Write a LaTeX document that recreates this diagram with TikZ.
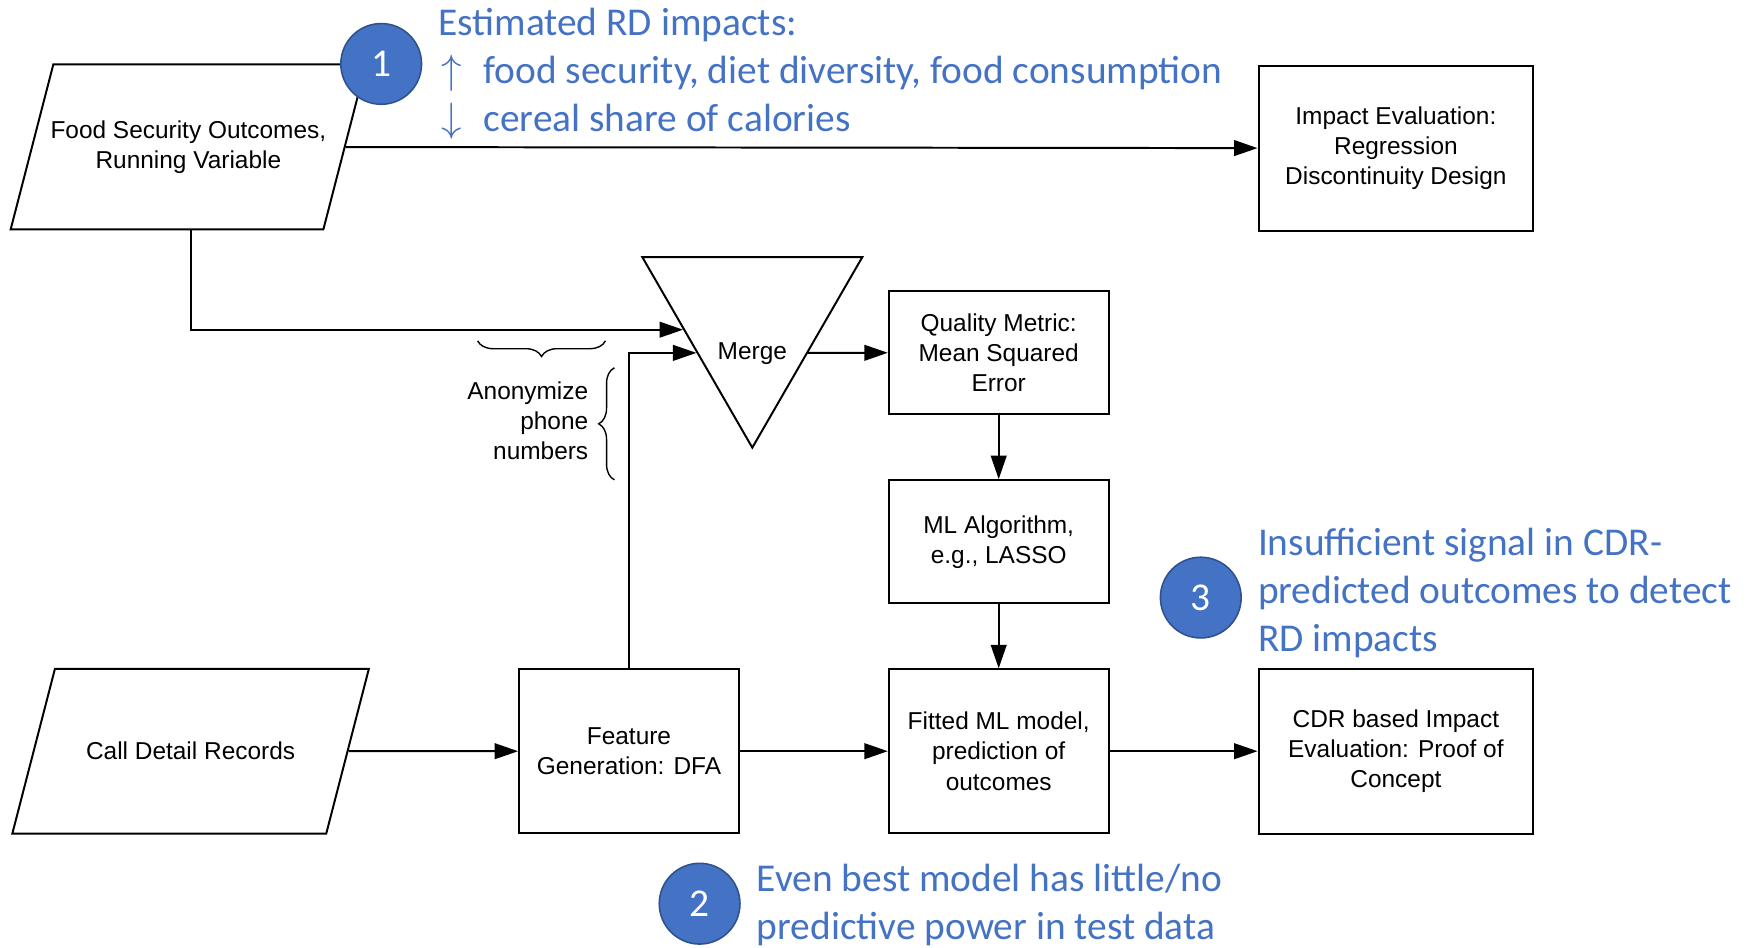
\documentclass[tikz,border=0pt]{standalone}
\usepackage{fontspec}
\setmainfont{Liberation Sans}
\newfontfamily\calloutfont{Carlito}
\usetikzlibrary{positioning,arrows.meta,shapes.geometric,decorations.pathreplacing,calc}
\definecolor{callout}{HTML}{4472C4}
\definecolor{calloutedge}{HTML}{2F528F}

\begin{document}
\begin{tikzpicture}[
  x=0.2mm, y=-0.2mm,
  node distance=11.4mm and 26.4mm,
  io/.style={draw, line width=1pt, trapezium, trapezium left angle=75.5, trapezium right angle=104.5, trapezium stretches body=true, minimum width=62.6mm, minimum height=29.4mm, inner xsep=0pt, inner ysep=#1, align=center, font=\fontsize{12.4}{15.3}\selectfont},
  io/.default=10mm,
  block/.style={draw, line width=1pt, minimum width=39.2mm, minimum height=29.2mm, align=center, font=\fontsize{12.4}{15.3}\selectfont},
  smallblock/.style={block, minimum height=22mm},
  wideblock/.style={block, minimum width=49mm, minimum height=29.4mm},
  merger/.style={draw, line width=1pt, regular polygon, regular polygon sides=3, shape border rotate=180, minimum size=45.3mm, inner sep=0pt},
  badge/.style={circle, fill=callout, draw=calloutedge, line width=0.8pt, minimum size=14.4mm, inner sep=0pt, text=white, font=\calloutfont\fontsize{20}{24}\selectfont},
  note/.style={text=callout, align=left, inner sep=0pt, font=\calloutfont\fontsize{20}{24.4}\selectfont},
  arrow/.style={-{Triangle[length=4.2mm, width=2.8mm]}, line width=1pt},
  brace/.style={decorate, decoration={brace, amplitude=2.8mm}, line width=0.7pt}
]
\useasboundingbox (0,0) rectangle (1568,845);

% inputs
\node[io, inner xsep=-0.5mm, minimum width=62.2mm] (food) at (168,131) {Food Security Outcomes,\\Running Variable};
\node[io=13.1mm, minimum width=63.6mm] (cdr) at (170,670) {Call Detail Records};

% processing chain
\node[block] (feat) at (561,670) {Feature\\Generation: DFA};
\node[block, right=of feat] (fitted) {Fitted ML model,\\prediction of\\outcomes};
\node[wideblock, right=of fitted] (cdrimp) {CDR based Impact\\Evaluation: Proof of\\Concept};
\node[smallblock, above=of fitted] (mlalg) {ML Algorithm,\\e.g., LASSO};
\node[smallblock, above=of mlalg] (quality) {Quality Metric:\\Mean Squared\\Error};
\node[wideblock, above=77.8mm of cdrimp] (impact) {Impact Evaluation:\\Regression\\Discontinuity Design};
\node[merger, label={[font=\fontsize{12.4}{15.3}\selectfont, yshift=-5.8mm]center:Merge}] (merge) at (671,286) {};
\coordinate (mergein) at ($(merge.corner 3)!0.38!(merge.corner 1)$);

\draw[arrow] (food) -- (impact);
\draw[arrow] ([xshift=0.4mm]food.south) |- (mergein);
\draw[arrow] (feat.north) |- (merge.side 3);
\draw[arrow] (merge.side 1) -- (quality);
\draw[arrow] (quality) -- (mlalg);
\draw[arrow] (mlalg) -- (fitted);
\draw[arrow] (cdr) -- (feat);
\draw[arrow] (feat) -- (fitted);
\draw[arrow] (fitted) -- (cdrimp);

% anonymization
\draw[brace] (540,304) -- (426,304);
\draw[brace] (548,428) -- (548,328);
\node[anchor=east, align=right, inner sep=0pt, font=\fontsize{12.4}{15.3}\selectfont] (anon) at (525,375) {Anonymize\\phone\\numbers};

% callouts
\node[badge] (one) at (340,57) {1};
\node[note, right=2.8mm of one, yshift=-1.7mm] (notea) {Estimated RD impacts:\\\hspace{0.6mm}$\uparrow$\hspace{2.2mm} food security, diet diversity, food consumption\\\hspace{0.6mm}$\downarrow$\hspace{2.2mm} cereal share of calories};
\node[badge] (two) at (624,806) {2};
\node[note, right=2.8mm of two, yshift=-0.3mm] (noteb) {Even best model has little/no\\predictive power in test data};
\node[badge] (three) at (1071,533) {3};
\node[note, right=2.8mm of three, yshift=0.8mm] (notec) {Insufficient signal in CDR-\\predicted outcomes to detect\\RD impacts};
\end{tikzpicture}
\end{document}
